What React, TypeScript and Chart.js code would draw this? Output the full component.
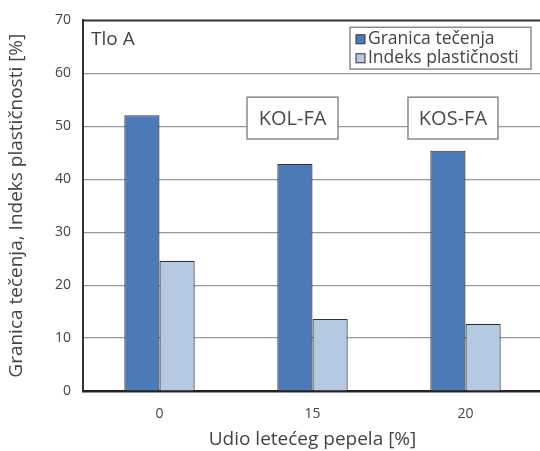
import React, { useEffect, useRef } from "react";
import { Chart, registerables } from "chart.js";

Chart.register(...registerables);

const categories = ["0", "15", "20"];
const granicaTecenja = [52.1, 42.9, 45.4];
const indeksPlasticnosti = [24.6, 13.6, 12.7];
const seriesNames = ["Granica tečenja", "Indeks plastičnosti"];
const yTicks = [0, 10, 20, 30, 40, 50, 60, 70];
const panelLabel = "Tlo A";
const groupLabels = ["KOL-FA", "KOS-FA"];

const FONT = "'Open Sans', 'Noto Sans', sans-serif";
const BLUE = "#4c7ab8";
const LIGHT = "#b5c9e3";
const TEXT = "#444";

const overlayPlugin = {
  id: "overlay",
  afterDatasetsDraw(chart: any) {
    const { ctx, chartArea, scales } = chart;
    const xs = scales.x;
    const ys = scales.y;
    const xp = (v: number) => xs.getPixelForValue(0) + v * (xs.getPixelForValue(1) - xs.getPixelForValue(0));
    ctx.save();
    // top border
    ctx.strokeStyle = "#333";
    ctx.lineWidth = 2;
    ctx.beginPath();
    ctx.moveTo(chartArea.left, chartArea.top);
    ctx.lineTo(chartArea.right, chartArea.top);
    ctx.stroke();

    // panel label
    ctx.fillStyle = TEXT;
    ctx.font = `19px ${FONT}`;
    ctx.textBaseline = "alphabetic";
    ctx.textAlign = "left";
    ctx.fillText(panelLabel, chartArea.left + 8, chartArea.top + 25);

    // group boxes
    const boxes = [
      { label: groupLabels[0], x0: 0.572, x1: 1.167 },
      { label: groupLabels[1], x0: 1.624, x1: 2.212 },
    ];
    boxes.forEach((b) => {
      const l = xp(b.x0), r = xp(b.x1);
      const t = ys.getPixelForValue(55.5), bt = ys.getPixelForValue(47.6);
      ctx.fillStyle = "#fff";
      ctx.fillRect(l, t, r - l, bt - t);
      ctx.strokeStyle = "#8a8a8a";
      ctx.lineWidth = 1.5;
      ctx.strokeRect(l, t, r - l, bt - t);
      ctx.fillStyle = "#4a4a4a";
      ctx.font = `20px ${FONT}`;
      ctx.textAlign = "center";
      ctx.textBaseline = "middle";
      ctx.fillText(b.label, (l + r) / 2, (t + bt) / 2 + 1);
    });

    // legend
    const ll = xp(1.245), lr = xp(2.428);
    const lt = ys.getPixelForValue(68.7), lb = ys.getPixelForValue(60.8);
    ctx.fillStyle = "#fff";
    ctx.fillRect(ll, lt, lr - ll, lb - lt);
    ctx.strokeStyle = "#8a8a8a";
    ctx.lineWidth = 1.5;
    ctx.strokeRect(ll, lt, lr - ll, lb - lt);
    const colors = [BLUE, LIGHT];
    ctx.font = `17.5px ${FONT}`;
    ctx.textAlign = "left";
    ctx.textBaseline = "middle";
    seriesNames.forEach((n, i) => {
      const cy = lt + 12 + i * 19;
      ctx.fillStyle = colors[i];
      ctx.fillRect(ll + 6, cy - 4.5, 9, 9);
      ctx.strokeStyle = "#333";
      ctx.lineWidth = 1;
      ctx.strokeRect(ll + 6, cy - 4.5, 9, 9);
      ctx.fillStyle = TEXT;
      ctx.fillText(n, ll + 18, cy);
    });
    ctx.restore();
  },
};

export default function App() {
  const ref = useRef<HTMLCanvasElement | null>(null);
  useEffect(() => {
    if (!ref.current) return;
    const chart = new Chart(ref.current, {
      type: "bar",
      data: {
        labels: categories,
        datasets: [
          {
            label: seriesNames[0],
            data: granicaTecenja,
            backgroundColor: BLUE,
            borderColor: "#333",
            borderWidth: 1.2,
            categoryPercentage: 0.46,
            barPercentage: 1,
          },
          {
            label: seriesNames[1],
            data: indeksPlasticnosti,
            backgroundColor: LIGHT,
            borderColor: "#333",
            borderWidth: 1.2,
            categoryPercentage: 0.46,
            barPercentage: 1,
          },
        ],
      },
      options: {
        responsive: false,
        animation: false,
        layout: { padding: { left: 5, right: 3, top: 17, bottom: 0 } },
        plugins: { legend: { display: false }, tooltip: { enabled: false } },
        scales: {
          x: {
            grid: { display: false, drawTicks: false },
            border: { display: true, color: "#222", width: 2.5 },
            ticks: { color: TEXT, font: { family: FONT, size: 14 }, padding: 15 },
            title: {
              display: true,
              text: "Udio letećeg pepela [%]",
              color: TEXT,
              font: { family: FONT, size: 19 },
              padding: 0,
            },
            afterFit(scale: any) {
              scale.height = 60;
            },
          },
          y: {
            min: 0,
            max: 70,
            afterBuildTicks(scale: any) {
              scale.ticks = yTicks.map((v) => ({ value: v }));
            },
            grid: {
              color: (c: any) => (c.tick && (c.tick.value === 0 || c.tick.value === 70) ? "rgba(0,0,0,0)" : "#999"),
              lineWidth: 1.2,
              drawTicks: false,
            },
            border: { display: true, color: "#333", width: 2 },
            ticks: { color: TEXT, font: { family: FONT, size: 14 }, padding: 12 },
            title: {
              display: true,
              text: "Granica tečenja, Indeks plastičnosti [%]",
              color: TEXT,
              font: { family: FONT, size: 19 },
              padding: 0,
            },
            afterFit(scale: any) {
              scale.width = 78;
            },
          },
        },
      },
      plugins: [overlayPlugin],
    } as any);
    return () => chart.destroy();
  }, []);
  return (
    <div style={{ position: "absolute", left: 0, top: 0, width: 540, height: 451, overflow: "hidden", background: "#fff" }}>
      <canvas ref={ref} width={545} height={451} style={{ display: "block" }} />
    </div>
  );
}
